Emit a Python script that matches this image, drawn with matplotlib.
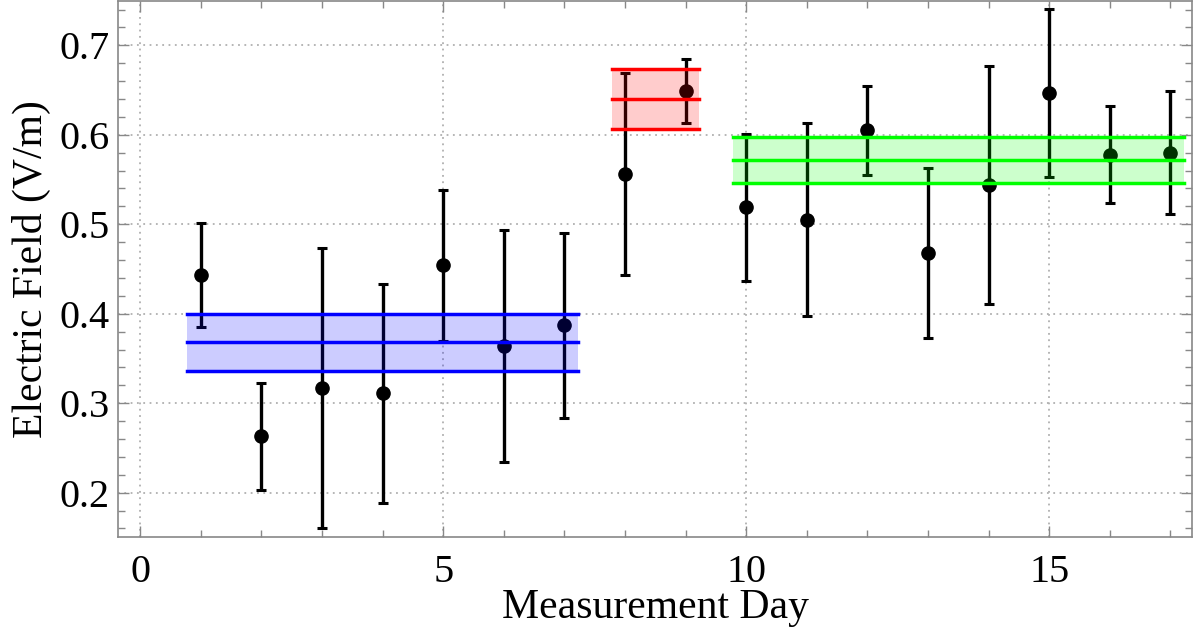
import numpy as np
import matplotlib.pyplot as plt
from matplotlib.ticker import MultipleLocator

plt.rcParams['font.family'] = ['Liberation Serif', 'DejaVu Serif']

days = [1, 2, 3, 4, 5, 6, 7, 8, 9, 10, 11, 12, 13, 14, 15, 16, 17]
field = [0.443, 0.263, 0.317, 0.311, 0.454, 0.364, 0.387, 0.556, 0.649,
         0.519, 0.505, 0.605, 0.468, 0.544, 0.647, 0.578, 0.580]
err = [0.058, 0.060, 0.156, 0.122, 0.084, 0.130, 0.103, 0.113, 0.036,
       0.082, 0.108, 0.050, 0.095, 0.133, 0.094, 0.054, 0.069]

# groups: first day, last day, mean, error, colour
group_start = [1, 8, 10]
group_end = [7, 9, 17]
group_mean = [0.368, 0.640, 0.572]
group_err = [0.032, 0.034, 0.026]
group_color = ['#0000ff', '#ff0000', '#00ff00']

fig = plt.figure(figsize=(11.98, 6.30), dpi=100)
ax = fig.add_axes([0.0988, 0.147, 0.8959, 0.852])

ax.errorbar(days, field, yerr=err, fmt='o', color='black', ms=9.5,
            elinewidth=2.4, capsize=3.4, capthick=2.2, zorder=3)

for s, e, m, d, c in zip(group_start, group_end, group_mean, group_err, group_color):
    x0, x1 = s - 0.22, e + 0.22
    ax.fill_between([x0, x1], m - d, m + d, color=c, alpha=0.2, lw=0, zorder=4)
    for yy in (m - d, m, m + d):
        ax.plot([x0, x1], [yy, yy], color=c, lw=2.5, zorder=5)

ax.set_xlim(-0.36, 17.35)
ax.set_ylim(0.15, 0.75)
ax.xaxis.set_major_locator(MultipleLocator(5))
ax.xaxis.set_minor_locator(MultipleLocator(1))
ax.yaxis.set_major_locator(MultipleLocator(0.1))
ax.yaxis.set_minor_locator(MultipleLocator(0.02))
ax.yaxis.set_major_formatter(plt.FuncFormatter(lambda v, p: f"{v:.1f}"))

ax.tick_params(which='both', direction='in', top=True, right=True,
               color='#888888', labelsize=29)
ax.tick_params(axis='x', pad=12)
ax.tick_params(axis='y', pad=6)
ax.tick_params(which='major', length=8, width=1)
ax.tick_params(which='minor', length=5, width=1)
for sp in ax.spines.values():
    sp.set_color('#888888')
    sp.set_linewidth(1.2)

ax.grid(True, which='major', color='#b0b0b0', linestyle=(0, (1, 2.5)),
        linewidth=1.3, zorder=0)
ax.set_axisbelow(True)

ax.set_xlabel("Measurement Day", fontsize=30, labelpad=-2)
ax.set_ylabel("Electric Field (V/m)", fontsize=30, labelpad=6)

fig.savefig("out.png", dpi=100)
